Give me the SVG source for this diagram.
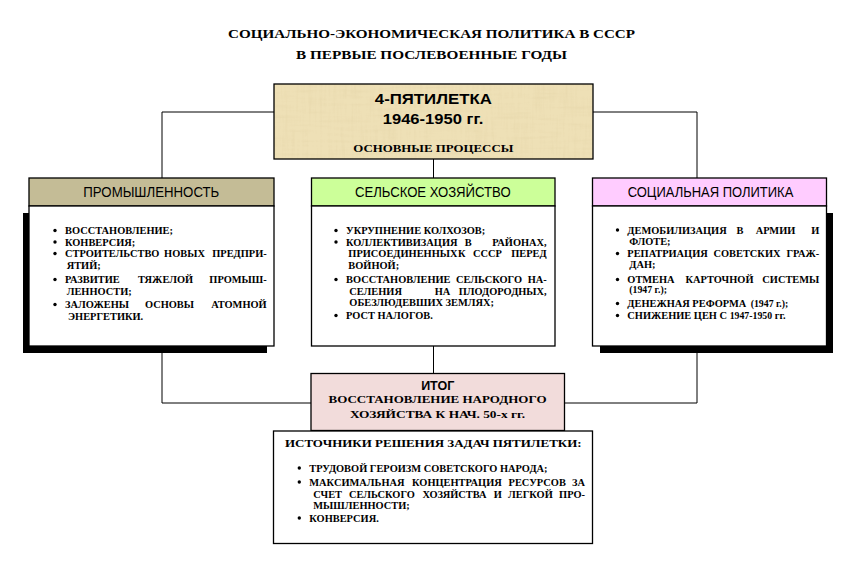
<svg xmlns="http://www.w3.org/2000/svg" width="859" height="564" viewBox="0 0 859 564">
<defs>
<style>
.bx{stroke:#000;stroke-width:1.3}
.ln{stroke:#000;stroke-width:1;fill:none}
.b{font-family:"Liberation Serif","Times New Roman",serif;font-weight:bold;font-size:10.4px;fill:#000}
.e{text-anchor:end}
.m{text-anchor:middle}
.ttl{font-family:"Liberation Serif","Times New Roman",serif;font-weight:bold;font-size:13.5px;text-anchor:middle;fill:#000}
.hd{font-family:"Liberation Sans",Arial,sans-serif;font-size:14px;text-anchor:middle;fill:#000}
.sb{font-family:"Liberation Sans",Arial,sans-serif;font-weight:bold;text-anchor:middle;fill:#000}
.sm{font-size:9.8px}
</style>
<filter id="paper" x="0" y="0" width="100%" height="100%">
<feTurbulence type="fractalNoise" baseFrequency="0.35 0.025" numOctaves="3" seed="5" result="n1"/>
<feTurbulence type="fractalNoise" baseFrequency="0.03 0.3" numOctaves="2" seed="9" result="n2"/>
<feBlend in="n1" in2="n2" mode="multiply" result="n"/>
<feColorMatrix in="n" type="matrix" values="0 0 0 0 0.72  0 0 0 0 0.60  0 0 0 0 0.34  -1.6 0 0 0 0.75" result="c"/>
<feComposite in="c" in2="SourceGraphic" operator="in"/>
</filter>
</defs>
<rect width="859" height="564" fill="#fff"/>

<g id="title">
<text class="ttl" x="431.5" y="38" textLength="407" lengthAdjust="spacingAndGlyphs">СОЦИАЛЬНО-ЭКОНОМИЧЕСКАЯ ПОЛИТИКА В СССР</text>
<text class="ttl" x="431.5" y="58.5" textLength="271" lengthAdjust="spacingAndGlyphs">В ПЕРВЫЕ ПОСЛЕВОЕННЫЕ ГОДЫ</text>
</g>

<g id="connectors">
<path class="ln" d="M274 112 H162 V178 M593 112 H697 V178 M433.5 159 V178"/>
<path class="ln" d="M162 353 V403 H311 M697 353 V403 H564 M433.5 346 V373.5"/>
</g>

<g id="node-plan">
<rect x="274" y="84" width="319" height="75" fill="#eee0b6"/>
<rect x="274" y="84" width="319" height="75" fill="#fff" filter="url(#paper)" opacity="0.5"/>
<rect x="274" y="84" width="319" height="75" fill="none" class="bx"/>
<text class="sb" x="433.3" y="104" font-size="15.5" textLength="117" lengthAdjust="spacingAndGlyphs">4-ПЯТИЛЕТКА</text>
<text class="sb" x="433" y="124" font-size="15.5" textLength="100.5" lengthAdjust="spacingAndGlyphs">1946-1950 гг.</text>
<text class="b m" x="433.3" y="152" font-size="12.8" textLength="160" lengthAdjust="spacingAndGlyphs">ОСНОВНЫЕ ПРОЦЕССЫ</text>
</g>

<g id="node-industry">
<rect x="23" y="213" width="244" height="140" fill="#000"/>
<rect x="29" y="178" width="245" height="28" fill="#c4bc96" class="bx"/>
<rect x="29" y="206" width="245" height="140" fill="#fff" class="bx"/>
<text class="hd" x="151.3" y="196.5" textLength="136" lengthAdjust="spacingAndGlyphs">ПРОМЫШЛЕННОСТЬ</text>
<g fill="#000"><circle cx="55" cy="230.5" r="1.7"/><circle cx="55" cy="242" r="1.7"/><circle cx="55" cy="253.5" r="1.7"/><circle cx="55" cy="279.5" r="1.7"/><circle cx="55" cy="304.5" r="1.7"/></g>
<text class="b" x="65" y="234">ВОССТАНОВЛЕНИЕ;</text>
<text class="b" x="65" y="245.5">КОНВЕРСИЯ;</text>
<text class="b" x="65" y="257">СТРОИТЕЛЬСТВО</text><text class="b m" x="184.5" y="257">НОВЫХ</text><text class="b e" x="266.7" y="257">ПРЕДПРИ-</text>
<text class="b" x="66.7" y="268.5">ЯТИЙ;</text>
<text class="b" x="65" y="283">РАЗВИТИЕ</text><text class="b m" x="165.6" y="283">ТЯЖЕЛОЙ</text><text class="b e" x="266.7" y="283">ПРОМЫШ-</text>
<text class="b" x="66.7" y="294.5">ЛЕННОСТИ;</text>
<text class="b" x="65" y="308">ЗАЛОЖЕНЫ</text><text class="b m" x="169.5" y="308">ОСНОВЫ</text><text class="b e" x="266.7" y="308">АТОМНОЙ</text>
<text class="b" x="68" y="320">ЭНЕРГЕТИКИ.</text>
</g>

<g id="node-agriculture">
<rect x="311.5" y="178" width="243.5" height="28" fill="#ccff99" class="bx"/>
<rect x="311.5" y="206" width="243.5" height="140" fill="#fff" class="bx"/>
<text class="hd" x="432.8" y="196.5" textLength="155.7" lengthAdjust="spacingAndGlyphs">СЕЛЬСКОЕ ХОЗЯЙСТВО</text>
<g fill="#000"><circle cx="336" cy="230.5" r="1.7"/><circle cx="336" cy="242" r="1.7"/><circle cx="336" cy="279.5" r="1.7"/><circle cx="336" cy="315.5" r="1.7"/></g>
<text class="b" x="346" y="234">УКРУПНЕНИЕ КОЛХОЗОВ;</text>
<text class="b" x="346" y="245.5">КОЛЛЕКТИВИЗАЦИЯ</text><text class="b m" x="468.3" y="245.5">В</text><text class="b e" x="546.7" y="245.5">РАЙОНАХ,</text>
<text class="b" x="348.3" y="257">ПРИСОЕДИНЕННЫХ</text><text class="b m" x="461.8" y="257">К</text><text class="b m" x="487.5" y="257">СССР</text><text class="b e" x="546.7" y="257">ПЕРЕД</text>
<text class="b" x="348.3" y="268.5">ВОЙНОЙ;</text>
<text class="b" x="346" y="283">ВОССТАНОВЛЕНИЕ</text><text class="b m" x="489" y="283">СЕЛЬСКОГО</text><text class="b e" x="546.7" y="283">НА-</text>
<text class="b" x="349.3" y="294.5">СЕЛЕНИЯ</text><text class="b m" x="442.5" y="294.5">НА</text><text class="b e" x="546.7" y="294.5">ПЛОДОРОДНЫХ,</text>
<text class="b" x="349.3" y="306">ОБЕЗЛЮДЕВШИХ ЗЕМЛЯХ;</text>
<text class="b" x="346" y="319">РОСТ НАЛОГОВ.</text>
</g>

<g id="node-social">
<rect x="600" y="213" width="233" height="140" fill="#000"/>
<rect x="592.5" y="178" width="234" height="28" fill="#ffccff" class="bx"/>
<rect x="592.5" y="206" width="234" height="140" fill="#fff" class="bx"/>
<text class="hd" x="710.5" y="196.5" textLength="165.6" lengthAdjust="spacingAndGlyphs">СОЦИАЛЬНАЯ ПОЛИТИКА</text>
<g fill="#000"><circle cx="617.5" cy="230" r="1.7"/><circle cx="617.5" cy="253.5" r="1.7"/><circle cx="617.5" cy="279.5" r="1.7"/><circle cx="617.5" cy="303.5" r="1.7"/><circle cx="617.5" cy="315.5" r="1.7"/></g>
<text class="b" x="627.3" y="233.5">ДЕМОБИЛИЗАЦИЯ</text><text class="b m" x="740" y="233.5">В</text><text class="b m" x="775.5" y="233.5">АРМИИ</text><text class="b e" x="819.3" y="233.5">И</text>
<text class="b" x="629.3" y="245">ФЛОТЕ;</text>
<text class="b" x="627.3" y="257">РЕПАТРИАЦИЯ</text><text class="b m" x="747" y="257">СОВЕТСКИХ</text><text class="b e" x="819.3" y="257">ГРАЖ-</text>
<text class="b" x="629.3" y="268">ДАН;</text>
<text class="b" x="627.3" y="283">ОТМЕНА</text><text class="b m" x="719.5" y="283">КАРТОЧНОЙ</text><text class="b e" x="819.3" y="283">СИСТЕМЫ</text>
<text class="b sm" x="629.3" y="293">(1947 г.);</text>
<text class="b" x="627.3" y="307">ДЕНЕЖНАЯ РЕФОРМА</text><text class="b sm e" x="788.3" y="307">(1947 г.);</text>
<text class="b" x="627.3" y="319">СНИЖЕНИЕ ЦЕН С <tspan class="sm">1947-1950</tspan> гг.</text>
</g>

<g id="node-result">
<rect x="311" y="373.5" width="253.5" height="57" fill="#f2dcdb" class="bx"/>
<text class="sb" x="437.7" y="389.5" font-size="12.5">ИТОГ</text>
<text class="b m" x="437.5" y="402.5" font-size="13" textLength="218" lengthAdjust="spacingAndGlyphs">ВОССТАНОВЛЕНИЕ НАРОДНОГО</text>
<text class="b m" x="437.5" y="418" font-size="13" textLength="175" lengthAdjust="spacingAndGlyphs">ХОЗЯЙСТВА К НАЧ. 50-х гг.</text>
</g>

<g id="node-sources">
<rect x="273.5" y="431" width="319" height="112.5" fill="#fff" class="bx"/>
<text class="b m" x="433.3" y="447" font-size="13" textLength="296.7" lengthAdjust="spacingAndGlyphs">ИСТОЧНИКИ РЕШЕНИЯ ЗАДАЧ ПЯТИЛЕТКИ:</text>
<g fill="#000"><circle cx="299.3" cy="468" r="1.7"/><circle cx="299.3" cy="482" r="1.7"/><circle cx="299.3" cy="518" r="1.7"/></g>
<text class="b" x="309.3" y="471.5">ТРУДОВОЙ ГЕРОИЗМ СОВЕТСКОГО НАРОДА;</text>
<text class="b" x="309.3" y="485.5">МАКСИМАЛЬНАЯ</text><text class="b m" x="456.9" y="485.5">КОНЦЕНТРАЦИЯ</text><text class="b m" x="537.2" y="485.5">РЕСУРСОВ</text><text class="b e" x="585" y="485.5">ЗА</text>
<text class="b" x="313.3" y="497.5">СЧЕТ</text><text class="b m" x="381.9" y="497.5">СЕЛЬСКОГО</text><text class="b m" x="454.5" y="497.5">ХОЗЯЙСТВА</text><text class="b m" x="497.7" y="497.5">И</text><text class="b m" x="530.4" y="497.5">ЛЕГКОЙ</text><text class="b e" x="585" y="497.5">ПРО-</text>
<text class="b" x="313.3" y="508.5">МЫШЛЕННОСТИ;</text>
<text class="b" x="309.3" y="521.5">КОНВЕРСИЯ.</text>
</g>
</svg>
